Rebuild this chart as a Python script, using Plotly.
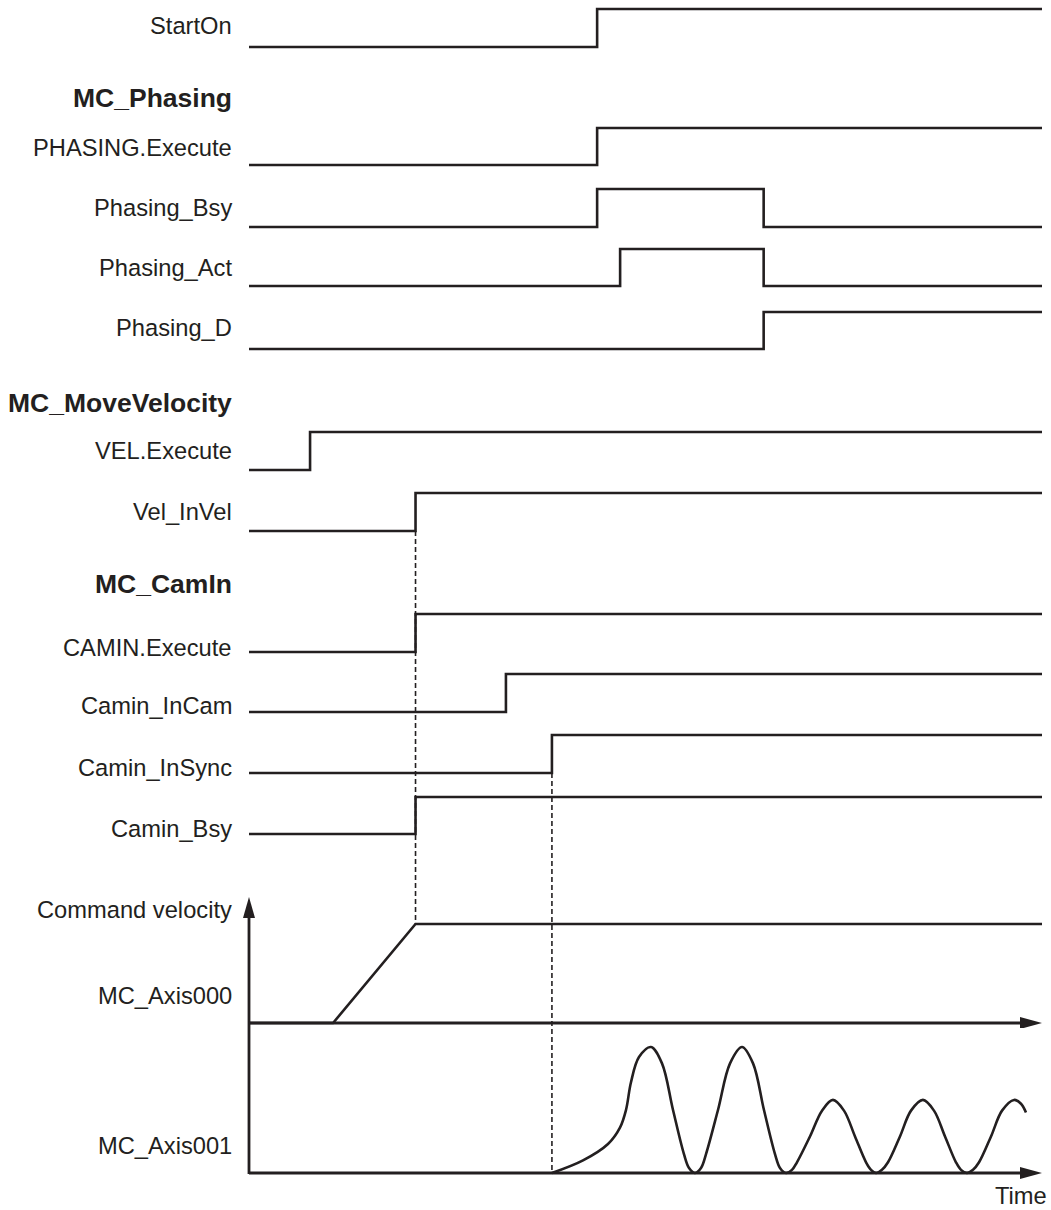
import plotly.graph_objects as go

# ---------------- data (time in arbitrary units, levels 0/1) ----------------
signal_names = ["StartOn", "PHASING.Execute", "Phasing_Bsy", "Phasing_Act", "Phasing_D",
                "VEL.Execute", "Vel_InVel",
                "CAMIN.Execute", "Camin_InCam", "Camin_InSync", "Camin_Bsy"]
group_headers = ["MC_Phasing", "MC_MoveVelocity", "MC_CamIn"]

startOn_t = [0, 43.9, 100];            startOn_v = [0, 1, 1]
phasingExec_t = [0, 43.9, 100];        phasingExec_v = [0, 1, 1]
phasingBsy_t = [0, 43.9, 64.9, 100];   phasingBsy_v = [0, 1, 0, 0]
phasingAct_t = [0, 46.8, 64.9, 100];   phasingAct_v = [0, 1, 0, 0]
phasingD_t = [0, 64.9, 100];           phasingD_v = [0, 1, 1]
velExec_t = [0, 7.7, 100];             velExec_v = [0, 1, 1]
velInVel_t = [0, 21.0, 100];           velInVel_v = [0, 1, 1]
caminExec_t = [0, 21.0, 100];          caminExec_v = [0, 1, 1]
caminInCam_t = [0, 32.4, 100];         caminInCam_v = [0, 1, 1]
caminInSync_t = [0, 38.2, 100];        caminInSync_v = [0, 1, 1]
caminBsy_t = [0, 21.0, 100];           caminBsy_v = [0, 1, 1]

# command velocity of MC_Axis000 (normalised)
axis000_t = [0, 10.6, 21.0, 100]
axis000_v = [0, 0, 1, 1]
# command velocity of MC_Axis001 (normalised)
axis001_t = [38.2, 42.12, 45.27, 46.78, 47.54, 48.17, 49.18, 50.69, 52.08, 53.47, 54.85,
             55.49, 56.24, 57.00, 57.63, 59.14, 60.66, 62.17, 63.56, 64.94, 66.33,
             66.96, 67.72, 68.47, 69.10,
             70.74, 72.26, 73.64, 75.03, 76.42, 77.81, 78.44, 79.07, 79.82, 80.58,
             82.09, 83.48, 84.99, 86.38, 87.77, 89.15, 89.79, 90.54, 91.30, 92.06,
             93.57, 94.96, 96.47, 97.35, 97.98]
axis001_v = [0.0, 0.10, 0.23, 0.36, 0.50, 0.72, 0.92, 1.0, 0.87, 0.50, 0.15,
             0.04, 0.0, 0.04, 0.15, 0.50, 0.87, 1.0, 0.87, 0.50, 0.15,
             0.04, 0.0, 0.025, 0.085,
             0.29, 0.495, 0.58, 0.495, 0.29, 0.085, 0.025, 0.0, 0.025, 0.085,
             0.29, 0.495, 0.58, 0.495, 0.29, 0.085, 0.025, 0.0, 0.025, 0.085,
             0.29, 0.495, 0.58, 0.55, 0.48]

sig_t = [startOn_t, phasingExec_t, phasingBsy_t, phasingAct_t, phasingD_t,
         velExec_t, velInVel_t, caminExec_t, caminInCam_t, caminInSync_t, caminBsy_t]
sig_v = [startOn_v, phasingExec_v, phasingBsy_v, phasingAct_v, phasingD_v,
         velExec_v, velInVel_v, caminExec_v, caminInCam_v, caminInSync_v, caminBsy_v]

# ---------------- layout (pixels) ----------------
W, H = 1051, 1210
INK = "#231f20"
FONT = "Liberation Sans, Arial, Helvetica, sans-serif"
X0_PX, X100_PX = 249, 1042
ppu = (X100_PX - X0_PX) / 100.0
x_range = [-X0_PX / ppu, (W - X0_PX) / ppu]

# (high px, low px) for each digital row
row_px = [(9, 47), (128, 165), (189, 227), (249, 286), (312, 349),
          (432, 470), (493, 531),
          (614, 652), (674, 712), (735, 773), (797, 834)]
label_px = [26, 148, 208, 268, 327.5, 450.5, 512, 648, 706, 768, 828.5]
header_px = [98.5, 403.5, 584]
axis000_px = (924, 1023)
axis001_px = (1047, 1173)


def pp(px):
    return 1 - px / H


def domain_for(hi, lo, pad):
    h = lo - hi
    top = lo - (1 + pad) * h
    bot = lo + pad * h
    return [pp(bot), pp(top)]


fig = go.Figure()
layout = dict(
    width=W, height=H, autosize=False,
    margin=dict(l=0, r=0, t=0, b=0),
    paper_bgcolor="white", plot_bgcolor="white",
    showlegend=False, hovermode=False,
    xaxis=dict(range=x_range, visible=False, fixedrange=True, domain=[0, 1]),
)

rows = list(row_px) + [axis000_px, axis001_px]
pads = [0.15] * len(row_px) + [0.05, 0.05]
ynames = []
for i, ((hi, lo), pad) in enumerate(zip(rows, pads)):
    key = "yaxis" if i == 0 else f"yaxis{i+1}"
    ynames.append("y" if i == 0 else f"y{i+1}")
    layout[key] = dict(domain=domain_for(hi, lo, pad), range=[-pad, 1 + pad],
                       visible=False, fixedrange=True, anchor="x")

LW = 2.6
for i, name in enumerate(signal_names):
    fig.add_trace(go.Scatter(x=sig_t[i], y=sig_v[i], mode="lines", name=name,
                             line=dict(shape="hv", width=LW, color=INK),
                             xaxis="x", yaxis=ynames[i]))

y000 = ynames[len(row_px)]
y001 = ynames[len(row_px) + 1]
fig.add_trace(go.Scatter(x=axis000_t, y=axis000_v, mode="lines", name="MC_Axis000",
                         line=dict(width=LW, color=INK), xaxis="x", yaxis=y000))
fig.add_trace(go.Scatter(x=axis001_t, y=axis001_v, mode="lines", name="MC_Axis001",
                         line=dict(width=LW, color=INK, shape="spline", smoothing=1.0),
                         xaxis="x", yaxis=y001))

shapes = []
# dashed guides
guide1 = velInVel_t[1]
guide2 = caminInSync_t[1]
shapes.append(dict(type="line", xref="x", yref="paper", x0=guide1, x1=guide1,
                   y0=pp(row_px[6][1]), y1=pp(axis000_px[0]),
                   line=dict(color=INK, width=1.6, dash="5px,3px")))
shapes.append(dict(type="line", xref="x", yref="paper", x0=guide2, x1=guide2,
                   y0=pp(row_px[9][1]), y1=pp(axis001_px[1]),
                   line=dict(color=INK, width=1.6, dash="5px,3px")))
# velocity axes
AW = 2.8
shapes.append(dict(type="line", xref="x", yref="paper", x0=0, x1=0,
                   y0=pp(axis001_px[1] + 1), y1=pp(912),
                   line=dict(color=INK, width=AW)))
for yn in (y000, y001):
    shapes.append(dict(type="line", xref="x", yref=yn, x0=0, x1=98, y0=0, y1=0,
                       line=dict(color=INK, width=AW)))
    shapes.append(dict(type="path", xref="x", yref=yn, xsizemode="pixel", ysizemode="pixel",
                       xanchor=100, yanchor=0, path="M0,0 L-22,6 L-22,-6 Z",
                       fillcolor=INK, line=dict(width=0)))
shapes.append(dict(type="path", xref="x", yref="paper", xsizemode="pixel", ysizemode="pixel",
                   xanchor=0, yanchor=pp(897), path="M0,0 L-6,-21 L6,-21 Z",
                   fillcolor=INK, line=dict(width=0)))
layout["shapes"] = shapes

ann = []
LX = 234 / W
FS = 23.7
FSB = 26.5
for name, py in zip(signal_names, label_px):
    ann.append(dict(text=name, x=LX, y=pp(py), xref="paper", yref="paper",
                    xanchor="right", yanchor="middle", showarrow=False,
                    font=dict(family=FONT, size=FS, color=INK)))
for name, py in zip(group_headers, header_px):
    ann.append(dict(text=f"<b>{name}</b>", x=LX, y=pp(py), xref="paper", yref="paper",
                    xanchor="right", yanchor="middle", showarrow=False,
                    font=dict(family=FONT, size=FSB, color=INK)))
for name, py in [("Command velocity", 910), ("MC_Axis000", 995.5), ("MC_Axis001", 1145.5)]:
    ann.append(dict(text=name, x=LX, y=pp(py), xref="paper", yref="paper",
                    xanchor="right", yanchor="middle", showarrow=False,
                    font=dict(family=FONT, size=FS, color=INK)))
ann.append(dict(text="Time", x=1049 / W, y=pp(1195.5), xref="paper", yref="paper",
                xanchor="right", yanchor="middle", showarrow=False,
                font=dict(family=FONT, size=FS, color=INK)))
layout["annotations"] = ann

fig.update_layout(**layout)
fig.write_html("out.html",
               config={"displayModeBar": False, "staticPlot": True},
               post_script="document.body.style.margin='0';document.body.style.padding='0';")
